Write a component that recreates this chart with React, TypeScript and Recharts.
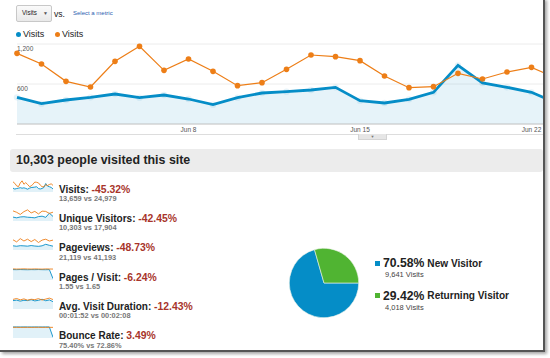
import React from 'react'
import { Area, Cell, ComposedChart, CartesianGrid, Line, Pie, PieChart, XAxis, YAxis } from 'recharts'

const BLUE = '#058dc7'
const ORANGE = '#ed7e17'
const GREEN = '#50b432'
const RED = '#a8342a'

// daily visits, this period vs previous period
const dates = [
	'Jun 1', 'Jun 2', 'Jun 3', 'Jun 4', 'Jun 5', 'Jun 6', 'Jun 7', 'Jun 8', 'Jun 9', 'Jun 10', 'Jun 11', 'Jun 12',
	'Jun 13', 'Jun 14', 'Jun 15', 'Jun 16', 'Jun 17', 'Jun 18', 'Jun 19', 'Jun 20', 'Jun 21', 'Jun 22', 'Jun 23',
]
const visits = [400, 305, 360, 400, 450, 395, 435, 375, 290, 395, 465, 485, 510, 550, 350, 315, 370, 475, 880, 615, 550, 475, 315]
const visitsPrev = [1060, 900, 640, 555, 940, 1165, 805, 975, 790, 575, 620, 820, 1035, 1010, 950, 720, 545, 560, 760, 675, 780, 850, 690]
const dateTicks = ['Jun 8', 'Jun 15', 'Jun 22']
const yTicks = [600, 1200]

// metric rows
const metricNames = ['Visits', 'Unique Visitors', 'Pageviews', 'Pages / Visit', 'Avg. Visit Duration', 'Bounce Rate']
const metricChanges = ['-45.32%', '-42.45%', '-48.73%', '-6.24%', '-12.43%', '3.49%']
const metricCur = ['13,659', '10,303', '21,119', '1.55', '00:01:52', '75.40%']
const metricPrev = ['24,979', '17,904', '41,193', '1.65', '00:02:08', '72.86%']

// sparkline series (previous = orange, current = blue)
const uniqPrev = [800, 690, 520, 740, 880, 640, 760, 560, 780, 760, 600, 700]
const uniqCur = [310, 250, 320, 340, 300, 280, 250, 350, 380, 290, 620, 360]
const pvPrev = [1700, 1350, 1900, 1500, 1800, 1400, 1750, 1250, 1650, 1800, 1500, 1650]
const pvCur = [700, 620, 720, 690, 640, 740, 660, 610, 700, 950, 780, 640]
const pagesPrev = [1.66, 1.64, 1.65, 1.67, 1.65, 1.64, 1.66, 1.65, 1.63, 1.66, 1.65, 1.64]
const pagesCur = [1.56, 1.55, 1.57, 1.55, 1.54, 1.56, 1.55, 1.57, 1.55, 1.54, 1.56, 0.2]
const durPrev = [128, 140, 122, 135, 118, 130, 125, 138, 120, 132, 145, 126]
const durCur = [112, 118, 105, 116, 112, 124, 108, 116, 130, 110, 121, 98]
const bouncePrev = [72.9, 73.1, 72.7, 72.8, 73.0, 72.6, 72.9, 73.2, 72.8, 72.7, 72.9, 72.8]
const bounceCur = [75.3, 75.5, 75.2, 75.6, 75.4, 75.3, 75.5, 75.4, 75.2, 75.6, 75.4, 5]

const sparkPrev = [visitsPrev, uniqPrev, pvPrev, pagesPrev, durPrev, bouncePrev]
const sparkCur = [visits, uniqCur, pvCur, pagesCur, durCur, bounceCur]
const sparkMax = [1250, 950, 2000, 1.8, 160, 82]

// visitor types
const visitorTypes = ['New Visitor', 'Returning Visitor']
const visitorShare = [70.58, 29.42]
const visitorVisits = ['9,641', '4,018']
const PIE_COLORS = [BLUE, GREEN]

const FONT = '"Liberation Sans", Arial, sans-serif'

const YTick = (props: any) => {
	const { x, y, payload } = props
	return (
		<text x={x} y={y + 5.5} fontSize={6.5} fill="#555" dominantBaseline="middle" textAnchor="start" fontFamily={FONT}>
			{Number(payload.value).toLocaleString('en-US')}
		</text>
	)
}

const Spark = ({ prev, cur, max }: { prev: number[]; cur: number[]; max: number }) => {
	const data = prev.map((p, i) => ({ prev: p, cur: cur[i] }))
	return (
		<ComposedChart width={40} height={13} data={data} margin={{ top: 1, right: 0, left: 0, bottom: 0 }}>
			<XAxis hide />
			<YAxis hide domain={[0, max]} />
			<Line dataKey="prev" stroke={ORANGE} strokeWidth={0.9} dot={false} isAnimationActive={false} />
			<Area dataKey="cur" stroke={BLUE} strokeWidth={0.9} fill={BLUE} fillOpacity={0.12} dot={false} isAnimationActive={false} />
		</ComposedChart>
	)
}

const App = () => {
	const data = dates.map((d, i) => ({ date: d, visits: visits[i], prev: visitsPrev[i] }))
	const pieData = visitorTypes.map((n, i) => ({ name: n, value: visitorShare[i] }))

	return (
		<div style={{ position: 'absolute', left: 0, top: 0, width: 550, height: 358, overflow: 'hidden', background: '#fff', fontFamily: FONT, color: '#222' }}>
			{/* frame */}
			<div style={{ position: 'absolute', left: 0, top: -2, width: 543, height: 352, borderRight: '2px solid #555', borderBottom: '2px solid #555', boxShadow: '2px 2px 3px rgba(0,0,0,0.35)' }} />

			{/* metric selector */}
			<div style={{ position: 'absolute', left: 16, top: 5, width: 34, height: 15, border: '1px solid #c8c8c8', borderRadius: 2, background: 'linear-gradient(#fafafa, #e9e9e9)' }}>
				<span style={{ position: 'absolute', left: 5, top: 3, fontSize: 6.3, lineHeight: '8px' }}>Visits</span>
				<span style={{ position: 'absolute', left: 26, top: 3, fontSize: 5, lineHeight: '8px', color: '#555' }}>▼</span>
			</div>
			<div style={{ position: 'absolute', left: 54, top: 8, fontSize: 8.6, lineHeight: '12px' }}>vs.</div>
			<div style={{ position: 'absolute', left: 73, top: 9, fontSize: 6, lineHeight: '8px', color: '#2a5db0' }}>Select a metric</div>

			{/* legend */}
			{[BLUE, ORANGE].map((c, i) => (
				<div key={i} style={{ position: 'absolute', left: 16 + i * 39, top: 28, height: 12, display: 'flex', alignItems: 'center' }}>
					<span style={{ width: 5, height: 5, borderRadius: 3, background: c, marginRight: 2 }} />
					<span style={{ fontSize: 9 }}>Visits</span>
				</div>
			))}

			{/* main chart */}
			<div style={{ position: 'absolute', left: 0, top: 0, width: 543, height: 140, overflow: 'hidden' }}>
				<ComposedChart width={560} height={140} data={data} margin={{ top: 44, right: 4, left: 17, bottom: 0 }}>
					<CartesianGrid vertical={false} stroke="#ececec" />
					<XAxis
						dataKey="date"
						scale="point"
						padding={{ left: 0, right: 0 }}
						ticks={dateTicks}
						interval={0}
						height={16}
						tickSize={0}
						tickMargin={3}
						axisLine={{ stroke: '#c8c8c8' }}
						tickLine={false}
						tick={{ fontSize: 6.5, fill: '#555', fontFamily: FONT }}
					/>
					<YAxis
						domain={[0, 1200]}
						ticks={yTicks}
						interval={0}
						mirror
						width={30}
						tickSize={0}
						tickMargin={0}
						axisLine={false}
						tickLine={false}
						tick={YTick}
					/>
					<Line
						dataKey="prev"
						stroke={ORANGE}
						strokeWidth={1.2}
						dot={{ r: 2.8, fill: ORANGE, stroke: 'none' }}
						activeDot={false}
						isAnimationActive={false}
					/>
					<Area
						dataKey="visits"
						stroke={BLUE}
						strokeWidth={2.8}
						fill={BLUE}
						fillOpacity={0.1}
						dot={{ r: 3.2, fill: BLUE, stroke: 'none' }}
						activeDot={false}
						isAnimationActive={false}
					/>
				</ComposedChart>
			</div>
			<div style={{ position: 'absolute', left: 16, top: 134, width: 527, height: 1, background: '#ddd' }} />
			<div style={{ position: 'absolute', left: 358, top: 134, width: 27, height: 5, background: '#e6e6e6', border: '1px solid #d4d4d4', borderTop: 'none', fontSize: 4, lineHeight: '5px', textAlign: 'center', color: '#777' }}>▼</div>

			{/* heading bar */}
			<div style={{ position: 'absolute', left: 10, top: 149, width: 533, height: 23, background: '#ececec', borderRadius: 3 }}>
				<span style={{ position: 'absolute', left: 6, top: 4, fontSize: 12.4, fontWeight: 'bold', lineHeight: '15px' }}>10,303 people visited this site</span>
			</div>

			{/* metric rows */}
			{metricNames.map((name, i) => {
				const cy = 187.6 + i * 29.3
				return (
					<React.Fragment key={name}>
						<div style={{ position: 'absolute', left: 13, top: cy - 9 }}>
							<Spark prev={sparkPrev[i]} cur={sparkCur[i]} max={sparkMax[i]} />
						</div>
						<div style={{ position: 'absolute', left: 59, top: cy - 7, lineHeight: '14px', whiteSpace: 'nowrap' }}>
							<span style={{ fontSize: 10, fontWeight: 'bold' }}>{name}: </span>
							<span style={{ fontSize: 10.4, fontWeight: 'bold', color: RED }}>{metricChanges[i]}</span>
						</div>
						<div style={{ position: 'absolute', left: 59, top: cy + 6.5, fontSize: 7.4, fontWeight: 'bold', lineHeight: '9px', color: '#777', whiteSpace: 'nowrap' }}>
							{metricCur[i]} vs {metricPrev[i]}
						</div>
					</React.Fragment>
				)
			})}

			{/* visitor type pie */}
			<div style={{ position: 'absolute', left: 284, top: 243 }}>
				<PieChart width={80} height={80}>
					<Pie
						data={pieData}
						dataKey="value"
						cx="50%"
						cy="50%"
						outerRadius={34.7}
						startAngle={0}
						endAngle={-360}
						stroke="#eef3ea"
						strokeWidth={0.6}
						isAnimationActive={false}
					>
						{pieData.map((entry, index) => (
							<Cell key={`cell-${index}`} fill={PIE_COLORS[index % PIE_COLORS.length]} />
						))}
					</Pie>
				</PieChart>
			</div>
			{visitorTypes.map((name, i) => {
				const cy = 263.3 + i * 32.5
				return (
					<React.Fragment key={name}>
						<div style={{ position: 'absolute', left: 375, top: cy - 8, height: 16, display: 'flex', alignItems: 'center', whiteSpace: 'nowrap' }}>
							<span style={{ width: 5, height: 5, background: PIE_COLORS[i], marginRight: 3 }} />
							<span style={{ fontSize: 12.2, fontWeight: 'bold' }}>{visitorShare[i].toFixed(2)}%</span>
							<span style={{ fontSize: 10.1, fontWeight: 'bold', marginLeft: 3 }}>{name}</span>
						</div>
						<div style={{ position: 'absolute', left: 385, top: cy + 7, fontSize: 7.5, lineHeight: '9px', color: '#444', whiteSpace: 'nowrap' }}>
							{visitorVisits[i]} Visits
						</div>
					</React.Fragment>
				)
			})}
		</div>
	)
}

export default App
